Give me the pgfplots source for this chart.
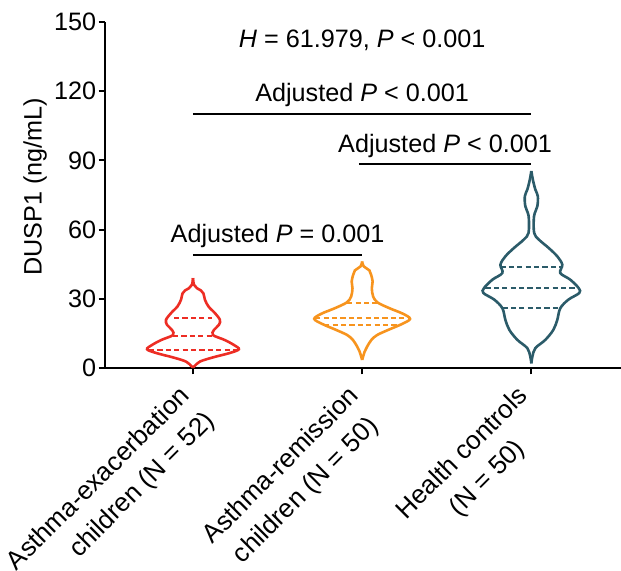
\documentclass[border=0pt]{standalone}
\usepackage{fontspec}
\setmainfont{Liberation Sans}
\usepackage{pgfplots}
\usepackage{pgfplotstable}
\pgfplotsset{compat=1.18}
\definecolor{vred}{RGB}{237,45,36}
\definecolor{vorange}{RGB}{247,148,30}
\definecolor{vteal}{RGB}{43,91,105}
\newcommand\tfont{\fontsize{12.6}{15}\selectfont}
\newcommand\xfont{\fontsize{13}{17.5}\selectfont}

% y = value, w = half width in px (1 category unit = 169.5 px)
\pgfplotstableread{
y w
0.3 0
0.8 1.5
2.8 7
4.6 20
6.4 36
8.1 46
10.0 41
12.2 31.5
14.3 20
16.5 21
18.7 26
20.9 27
23.8 22
26.7 15.5
29.6 12
32.3 10.5
33.6 8
34.6 4
36.1 1
39.0 0
}\redtab

\pgfplotstableread{
y w
3.5 0
7.1 2.5
9.3 5
12.2 9.3
14.3 15
16.5 26
19.1 40
21.3 48
23.5 41
25.9 27.5
28.4 15.5
31.0 11
34.6 9.7
37.5 10.5
40.4 9
42.3 7.3
44.1 1.5
46.2 0
}\orangetab

\pgfplotstableread{
y w
2.0 0
4.9 1
8.6 4
12.2 14
16.5 22
20.9 26
25.9 29
29.6 37
32.5 48
34.6 47.5
38.3 39
41.2 29
44.8 31
48.4 26
52.0 17.5
55.7 7.5
58.6 2.8
65.8 2.7
70.1 6
74.5 6.5
77.4 4
81.7 1.5
85.4 0
}\tealtab

\begin{document}
\begin{tikzpicture}
\begin{axis}[
  width=258pt, height=173pt, scale only axis,
  xmin=0.48, xmax=3.53, ymin=0, ymax=150,
  axis x line*=bottom, axis y line*=left,
  axis line style={-, line width=1pt, black},
  xtick={1,2,3}, ytick={0,30,60,90,120,150},
  tick align=outside, major tick length=3.2pt,
  tick style={line width=1pt, black},
  xticklabels={
    {\begin{tabular}{@{}r@{}}Asthma-exacerbation\\children (N = 52)\end{tabular}},
    {\begin{tabular}{@{}c@{}}Asthma-remission\\children (N = 50)\end{tabular}},
    {\begin{tabular}{@{}c@{}}Health controls\\(N = 50)\end{tabular}}},
  xticklabel style={font=\xfont, inner sep=0pt, anchor=north east, xshift=-9.8pt, yshift=-2.6pt, rotate=45},
  yticklabel style={font=\tfont, inner sep=0pt, xshift=-1pt},
  /pgf/number format/assume math mode=true,
  ylabel={DUSP1 (ng/mL)},
  ylabel style={font=\tfont, inner sep=0pt, at={(rel axis cs:-0.159,0.523)}, anchor=north},
  clip=false,
]
% red violin
\addplot[vred, line width=1.3pt, smooth, tension=0.55] table[x expr=1+\thisrow{w}/169.5, y=y] {\redtab};
\addplot[vred, line width=1.3pt, smooth, tension=0.55] table[x expr=1-\thisrow{w}/169.5, y=y] {\redtab};
\addplot[vred, line width=1pt, dash pattern=on 2.6pt off 1.6pt] coordinates {(0.888,21.7) (1.112,21.7)};
\addplot[vred, line width=1pt, dash pattern=on 2.6pt off 1.6pt] coordinates {(0.882,13.9) (1.118,13.9)};
\addplot[vred, line width=1pt, dash pattern=on 2.6pt off 1.6pt] coordinates {(0.74,7.8) (1.26,7.8)};
% orange violin
\addplot[vorange, line width=1.3pt, smooth, tension=0.55] table[x expr=2+\thisrow{w}/169.5, y=y] {\orangetab};
\addplot[vorange, line width=1.3pt, smooth, tension=0.55] table[x expr=2-\thisrow{w}/169.5, y=y] {\orangetab};
\addplot[vorange, line width=1pt, dash pattern=on 2.6pt off 1.6pt] coordinates {(1.912,28.1) (2.088,28.1)};
\addplot[vorange, line width=1pt, dash pattern=on 2.6pt off 1.6pt] coordinates {(1.723,21.6) (2.277,21.6)};
\addplot[vorange, line width=1pt, dash pattern=on 2.6pt off 1.6pt] coordinates {(1.776,18.7) (2.224,18.7)};
% teal violin
\addplot[vteal, line width=1.3pt, smooth, tension=0.55] table[x expr=3+\thisrow{w}/169.5, y=y] {\tealtab};
\addplot[vteal, line width=1.3pt, smooth, tension=0.55] table[x expr=3-\thisrow{w}/169.5, y=y] {\tealtab};
\addplot[vteal, line width=1pt, dash pattern=on 2.6pt off 1.6pt] coordinates {(2.817,43.6) (3.183,43.6)};
\addplot[vteal, line width=1pt, dash pattern=on 2.6pt off 1.6pt] coordinates {(2.729,34.6) (3.271,34.6)};
\addplot[vteal, line width=1pt, dash pattern=on 2.6pt off 1.6pt] coordinates {(2.829,26.2) (3.171,26.2)};
% significance bars
\addplot[black, line width=1pt] coordinates {(1,110.2) (3,110.2)};
\addplot[black, line width=1pt] coordinates {(1.98,88.4) (3,88.4)};
\addplot[black, line width=1pt] coordinates {(1,49.1) (2,49.1)};
\node[font=\tfont, anchor=base, inner sep=0pt] at (axis cs:2,139.1) {\textit{H} = 61.979, \textit{P} < 0.001};
\node[font=\tfont, anchor=base, inner sep=0pt, yshift=6pt] at (axis cs:2,110.2) {Adjusted \textit{P} < 0.001};
\node[font=\tfont, anchor=base, inner sep=0pt, yshift=6pt] at (axis cs:2.49,88.4) {Adjusted \textit{P} < 0.001};
\node[font=\tfont, anchor=base, inner sep=0pt, yshift=6pt] at (axis cs:1.5,49.1) {Adjusted \textit{P} = 0.001};
\end{axis}
\pgfresetboundingbox
\path[use as bounding box] (-52.5pt,-101pt) rectangle (258pt,184pt);
\end{tikzpicture}
\end{document}
